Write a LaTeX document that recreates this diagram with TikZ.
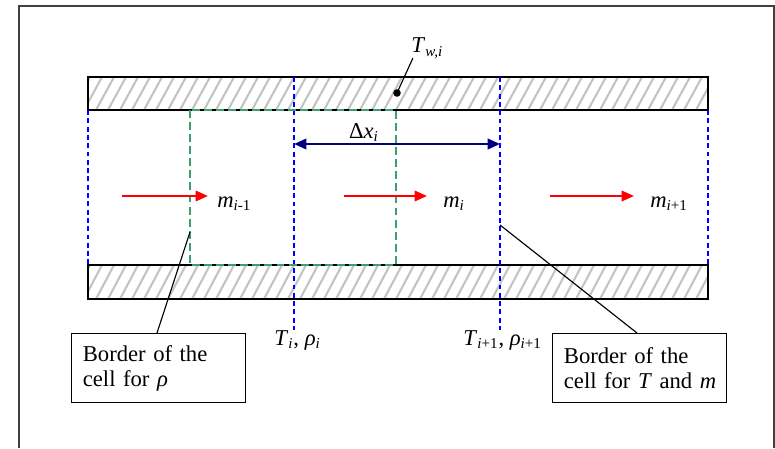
\documentclass[tikz,border=0pt]{standalone}
\usepackage{fontspec}
\setmainfont{Liberation Serif}
\usetikzlibrary{arrows.meta}
\definecolor{celldash}{RGB}{60,160,110}
\definecolor{hatchgray}{RGB}{195,195,195}
\newcommand{\sbs}[1]{\textsubscript{#1}}
\newcommand{\itx}[1]{\textit{#1}}

\begin{document}
\begin{tikzpicture}[x=0.53pt, y=-0.53pt,
    every node/.style={font=\fontsize{12pt}{13.3pt}\selectfont, inner sep=0pt},
    wallline/.style={black, line width=0.6pt},
    hatch/.style={hatchgray, line width=1.1pt},
    boundary/.style={blue, line width=0.6pt, dash pattern=on 2.6pt off 1.8pt},
    cellrho/.style={celldash, line width=0.6pt, dash pattern=on 4.2pt off 2.2pt},
    flow/.style={red, line width=1.1pt, -{Triangle[length=6.5pt, width=5.5pt]}},
    span/.style={blue!50!black, line width=1.3pt, {Triangle[length=6.5pt, width=5.5pt]}-{Triangle[length=6.5pt, width=5.5pt]}},
    callout/.style={draw, line width=0.6pt, anchor=north west, align=left,
        text width=80pt, inner xsep=6pt, minimum height=36.6pt},
    pointer/.style={black, line width=0.6pt}]
    \useasboundingbox (0,0) rectangle (775,448);

    % Rahmen
    \draw[black!75, line width=1pt] (19,448) -- (19,6) -- (774,6) -- (774,448);

    % Waende (schraffiert)
    \foreach \wtop/\wbot in {77/110, 265/299} {
        \begin{scope}
            \clip (88,\wtop) rectangle (708,\wbot);
            \foreach \hx in {60,72,...,720}
                \draw[hatch] (\hx,\wbot) -- (\hx+18,\wtop);
        \end{scope}
        \draw[wallline] (88,\wtop) rectangle (708,\wbot);
    }

    % Zellgrenzen fuer T und m
    \draw[boundary] (88,110) -- (88,265);
    \draw[boundary] (708,110) -- (708,265);
    \draw[boundary] (294,77) -- (294,330);
    \draw[boundary] (500,77) -- (500,330);

    % Zelle fuer rho
    \draw[cellrho] (190,110) rectangle (396,265);

    % Delta x
    \coordinate (spanL) at (294,144);
    \coordinate (spanR) at (500,144);
    \draw[span] (spanL) -- (spanR);
    \node[anchor=south] (dx) at (364,142) {Δ\itx{x}\sbs{\itx{i}}};

    % Massenstroeme
    \node[anchor=base west] (mA) at (217,207) {\itx{m}\sbs{\itx{i}-1}};
    \node[anchor=base west] (mB) at (443,207) {\itx{m}\sbs{\itx{i}}};
    \node[anchor=base west] (mC) at (650,207) {\itx{m}\sbs{\itx{i}+1}};
    \coordinate (fA) at (122,196);
    \coordinate (fB) at (344,196);
    \coordinate (fC) at (550,196);
    \draw[flow] (fA) -- ([xshift=-4.8pt]fA -| mA.west);
    \draw[flow] (fB) -- ([xshift=-8.5pt]fB -| mB.west);
    \draw[flow] (fC) -- ([xshift=-8.5pt]fC -| mC.west);

    % Wandtemperatur
    \node[anchor=base west] (tw) at (411,53) {\itx{T}\sbs{\itx{w,i}}};
    \coordinate (twdot) at (397,93);
    \draw[pointer] ([xshift=1pt,yshift=-2.7pt]tw.base west) -- (twdot);
    \fill (twdot) circle (2pt);

    % Knotengroessen
    \node[anchor=base west] (Ti) at (274,345) {\itx{T}\sbs{\itx{i}}, \itx{ρ}\sbs{\itx{i}}};
    \node[anchor=base west] (Tn) at (463,345) {\itx{T}\sbs{\itx{i}+1}, \itx{ρ}\sbs{\itx{i}+1}};

    % Erklaerungen
    \node[callout] (rhobox) at (71,333) {Border of the\\cell for \itx{ρ}};
    \node[callout] (tmbox) at (552,333) {Border of the\\cell~for~\itx{T}~and~\itx{m}};
    \coordinate (rhoedge) at (190,232);
    \coordinate (tmedge) at (500,225);
    \draw[pointer] (rhoedge) -- (rhobox.north -| 157,0);
    \draw[pointer] (tmedge) -- (tmbox.north -| 637,0);
\end{tikzpicture}
\end{document}
